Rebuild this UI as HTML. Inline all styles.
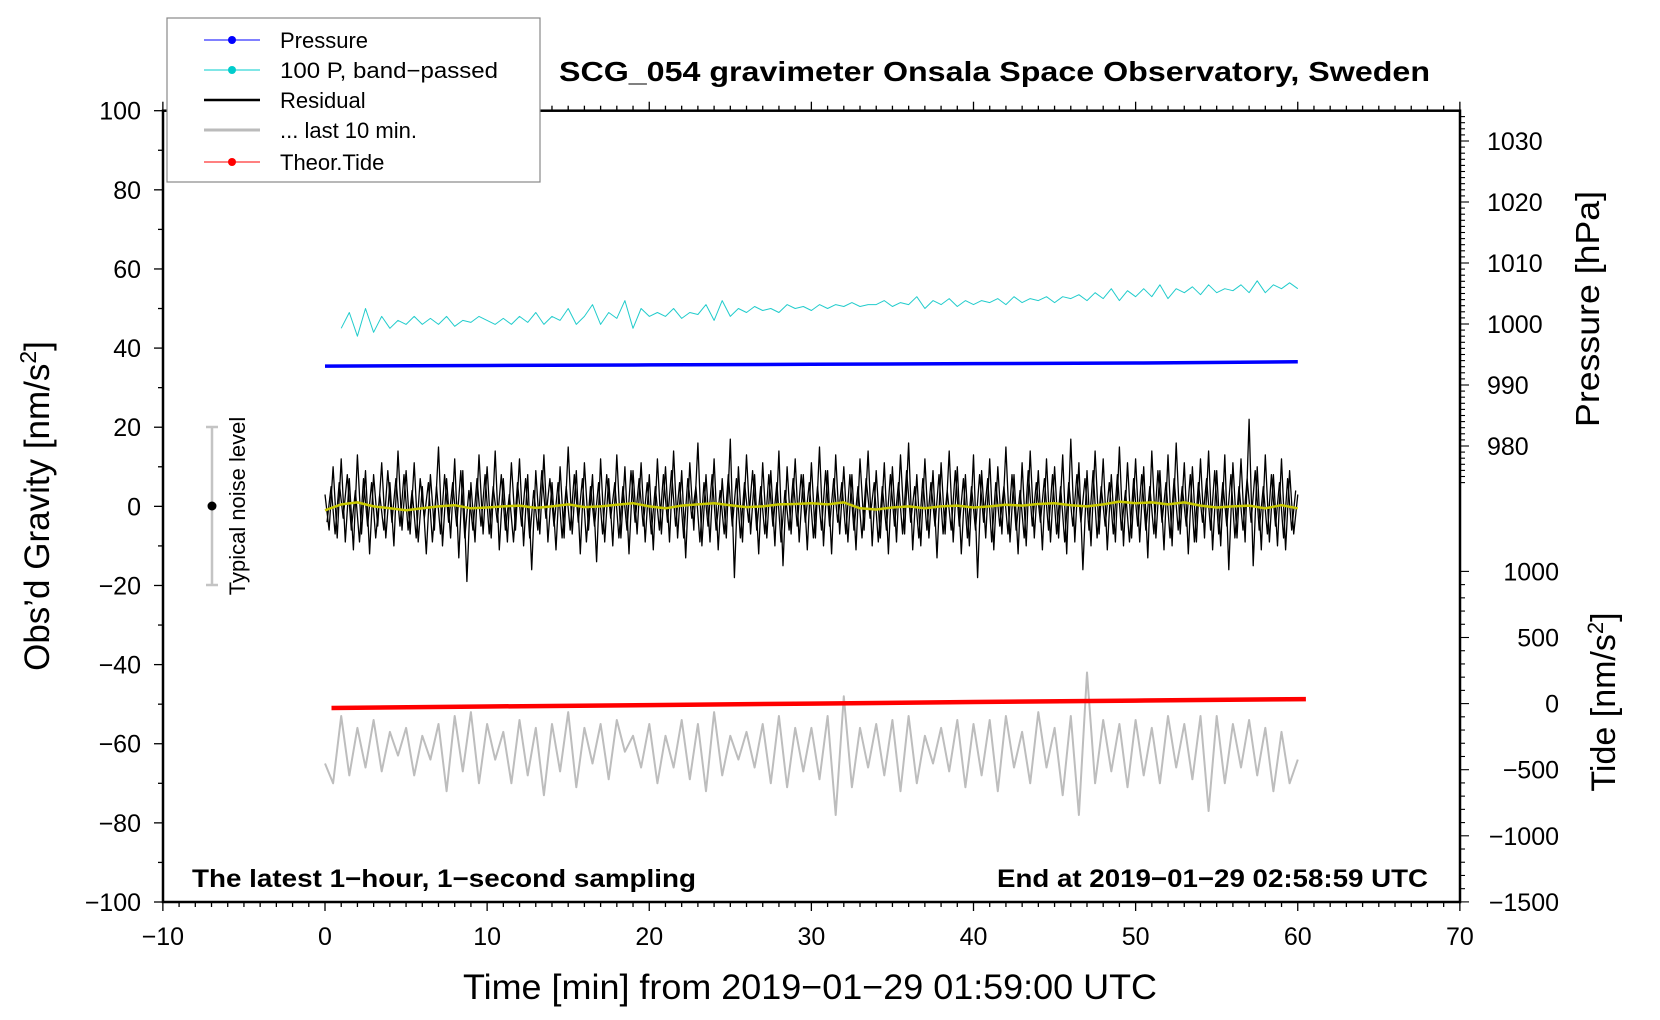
<!DOCTYPE html>
<html><head><meta charset="utf-8"><style>
html,body{margin:0;padding:0;background:#fff;width:1660px;height:1020px;overflow:hidden}
svg{display:block;font-family:"Liberation Sans",sans-serif}
</style></head><body>
<svg id="chart" width="1660" height="1020" viewBox="0 0 1660 1020" xmlns="http://www.w3.org/2000/svg">
<rect x="0" y="0" width="1660" height="1020" fill="#fff"/>
<g id="ticks"></g>
<g id="series"></g>
<rect x="163" y="110.7" width="1297" height="791.3" fill="none" stroke="#000" stroke-width="2.5"/>
<g>
<line x1="212" y1="427" x2="212" y2="585" stroke="#c4c4c4" stroke-width="2.5"/>
<line x1="206" y1="427" x2="218" y2="427" stroke="#c4c4c4" stroke-width="2.5"/>
<line x1="206" y1="585" x2="218" y2="585" stroke="#c4c4c4" stroke-width="2.5"/>
<circle cx="212" cy="506" r="4.5" fill="#000"/>
<text transform="translate(245,506) rotate(-90)" text-anchor="middle" font-size="22">Typical noise level</text>
</g>
<g>
<rect x="167" y="18" width="373" height="164" fill="#fff" stroke="#888" stroke-width="1.2"/>
<g><line x1="204" y1="40" x2="260" y2="40" stroke="#00f" stroke-width="1"/><circle cx="232" cy="40" r="4" fill="#00f"/><text x="280" y="48" font-size="22">Pressure</text></g>
<g><line x1="204" y1="70" x2="260" y2="70" stroke="#00cccc" stroke-width="1"/><circle cx="232" cy="70" r="4" fill="#00cccc"/><text x="280" y="78" font-size="22" textLength="218" lengthAdjust="spacingAndGlyphs">100 P, band−passed</text></g>
<g><line x1="204" y1="100" x2="260" y2="100" stroke="#000" stroke-width="2.5"/><text x="280" y="108" font-size="22">Residual</text></g>
<g><line x1="204" y1="130" x2="260" y2="130" stroke="#bbb" stroke-width="3"/><text x="280" y="138" font-size="22">... last 10 min.</text></g>
<g><line x1="204" y1="162" x2="260" y2="162" stroke="#f00" stroke-width="1"/><circle cx="232" cy="162" r="4" fill="#f00"/><text x="280" y="170" font-size="22">Theor.Tide</text></g>
</g>
<text x="559" y="81" font-size="28" font-weight="bold" textLength="871" lengthAdjust="spacingAndGlyphs">SCG_054 gravimeter Onsala Space Observatory, Sweden</text>
<text x="192" y="887" font-size="25" font-weight="bold" textLength="504" lengthAdjust="spacingAndGlyphs">The latest 1−hour, 1−second sampling</text>
<text x="997" y="887" font-size="25" font-weight="bold" textLength="431" lengthAdjust="spacingAndGlyphs">End at 2019−01−29 02:58:59 UTC</text>
<text x="463" y="999" font-size="35" textLength="694" lengthAdjust="spacingAndGlyphs">Time [min] from 2019−01−29 01:59:00 UTC</text>
<text transform="translate(49,506) rotate(-90)" text-anchor="middle" font-size="35">Obs’d Gravity [nm/s<tspan baseline-shift="super" font-size="23">2</tspan>]</text>
<text transform="translate(1599,309) rotate(-90)" text-anchor="middle" font-size="33" textLength="236" lengthAdjust="spacingAndGlyphs">Pressure [hPa]</text>
<text transform="translate(1615,702) rotate(-90)" text-anchor="middle" font-size="34">Tide [nm/s<tspan baseline-shift="super" font-size="22">2</tspan>]</text>
</svg>
<script>
const xTicks=[-10,0,10,20,30,40,50,60,70];
const yTicks=[100,80,60,40,20,0,-20,-40,-60,-80,-100];
const pTicks=[1030,1020,1010,1000,990,980];
const tTicks=[1000,500,0,-500,-1000,-1500];
const residual=[3,-6,10,-8,12,-9,7,-11,13,-7,9,-12,8,-5,11,-8,6,-10,14,-6,
9,-7,11,-9,5,-12,8,-6,15,-10,7,-8,12,-13,9,-19,6,-9,13,-7,
10,-8,14,-11,7,-9,11,-6,12,-10,8,-16,9,-7,13,-9,6,-11,10,-8,
15,-7,9,-12,11,-6,8,-14,12,-9,7,-10,13,-8,10,-12,9,-7,11,-9,
8,-11,12,-7,10,-9,14,-8,9,-13,11,-6,16,-10,8,-9,12,-11,7,-8,
17,-18,10,-9,13,-7,8,-12,11,-8,9,-10,14,-15,10,-7,12,-9,8,-11,
11,-8,15,-10,9,-12,13,-7,10,-9,8,-11,12,-6,14,-10,9,-8,11,-12,
10,-9,13,-7,16,-11,8,-10,12,-8,9,-13,11,-7,14,-9,10,-12,8,-10,
13,-18,9,-8,12,-11,10,-7,15,-9,8,-12,11,-10,14,-8,9,-11,12,-9,
10,-8,13,-12,17,-9,11,-16,9,-10,14,-7,12,-11,8,-9,15,-10,11,-8,
12,-9,10,-13,14,-8,9,-11,13,-10,16,-7,11,-12,10,-9,12,-8,14,-11,
9,-10,13,-16,11,-8,12,-9,22,-15,10,-11,13,-9,8,-10,12,-11,9,-7,3];
const residualFine=[-4,5,-7,6,-3,8,-6,4,-9,7,-5,6,-8,3,-6,9,-4,7,-5,8,
-6,4,-8,7,-3,6,-9,5,-7,8,-4,6,-5,9,-8,4,-6,7,-5,8,
-7,5,-4,8,-6,3,-9,6,-5,7,-8,4,-6,9,-3,7,-5,6,-8,5,
-6,8,-4,7,-9,5,-5,6,-7,8,-3,6,-8,5,-6,9,-4,7,-5,6,
-7,5,-6,8,-4,9,-5,6,-8,7,-3,5,-9,6,-5,8,-6,4,-7,8,
-5,7,-8,6,-4,9,-6,5,-7,8,-5,6,-9,4,-6,7,-5,8,-4,6,
-8,5,-6,9,-5,7,-4,6,-7,8,-6,5,-8,7,-3,6,-9,5,-6,8,
-5,6,-7,9,-4,5,-8,7,-6,6,-5,8,-7,4,-6,9,-5,7,-8,5,
-6,8,-4,7,-9,6,-5,5,-7,8,-6,4,-8,9,-5,6,-4,7,-6,8,
-7,5,-9,6,-5,8,-4,7,-6,9,-8,5,-5,6,-7,8,-6,4,-9,7,
-5,8,-6,5,-7,9,-4,6,-8,7,-6,5,-5,8,-9,6,-4,7,-6,9,
-7,6,-5,8,-8,5,-6,7,-4,9,-6,5,-7,8,-5,6,-8,7,-6,4];
const smoothed=[-1,0.5,1,0,-0.5,-1,-0.5,0,0.3,-0.5,-0.3,0,0.2,-0.4,0,0.5,-0.2,0,0.4,0.8,0,-0.5,0.2,0.5,0.8,0.3,-0.2,0,0.5,0.6,0.8,0.5,1,-0.5,-0.8,-0.3,0,-0.5,0,0.2,-0.3,0,0.4,0.2,0.6,0.8,0.3,0,0.5,1.2,0.8,1,0.5,1,0.2,-0.3,0,0.2,-0.5,0.3,-0.5];
const bandPassed=[45,49,43,50,44,48,45,47,46,48,
46,47.5,46,48,45.5,47,46.5,48,47,46,
47.5,46,48,46.5,49,46,48,47,50,46,
48,51,46,49,47.5,52,45,50,48,49,
48,50,47.5,49,48.5,51,47,52,48,50,
49,50.5,49.5,50,49,51,50,50.5,49.5,51,
50,51,50.5,51.5,50.5,51,51,52,50.5,51.5,
51,53,50,52,51,52.5,50.5,52,51,52,
51.5,52.5,51,53,51.5,52.5,52,53,51.5,53,
52.5,53.5,52,54,52.5,55,52,54.5,53,55,
53,56,52.5,55,54,55.5,53.5,56,54,55,
54.5,56,54,57,54,56,55,56.5,55];
const last10=[-65,-70,-53,-68,-56,-66,-54,-67,-57,-63,
-56,-68,-58,-64,-55,-72,-53,-67,-52,-70,
-55,-64,-57,-70,-54,-68,-56,-73,-55,-67,
-52,-71,-56,-65,-55,-69,-54,-62,-58,-66,
-55,-70,-58,-66,-54,-69,-55,-72,-52,-68,
-58,-64,-57,-66,-55,-70,-53,-71,-56,-67,
-56,-69,-53,-78,-48,-71,-56,-66,-55,-68,
-54,-72,-53,-70,-58,-65,-56,-67,-54,-71,
-55,-68,-54,-72,-53,-66,-57,-70,-52,-66,
-56,-73,-53,-78,-42,-70,-54,-67,-55,-71,
-54,-68,-56,-70,-53,-66,-55,-69,-53,-77,
-53,-70,-55,-66,-54,-68,-56,-72,-57,-70,-64];
const pressTimes=[0,10,20,30,40,50,60];
const pressure=[993.1,993.2,993.3,993.4,993.5,993.6,993.8];
const tideTimes=[0.4,10,20,30,40,50,60.5];
const tide=[-33,-22,-11,0,12,23,34];

const NS='http://www.w3.org/2000/svg';
const X=t=>325+(t)*16.2125;
const Y=g=>506.35-g*3.9565;
const P=p=>141-(p-1030)*6.1;
const T=v=>703.6-v*0.1322;
const tk=document.getElementById('ticks');
const sr=document.getElementById('series');
function mk(tag,attrs,parent){const e=document.createElementNS(NS,tag);for(const k in attrs)e.setAttribute(k,attrs[k]);parent.appendChild(e);return e;}
function line(x1,y1,x2,y2,w){return mk('line',{x1,y1,x2,y2,stroke:'#000','stroke-width':w},tk);}
for(let m=-10;m<=70;m++){const maj=m%10===0;const x=X(m);
line(x,902,x,902+(maj?9:5),1.3);line(x,110.7,x,110.7-(maj?9:5),1.3);}
xTicks.forEach(v=>{const t=mk('text',{x:X(v),y:945,'text-anchor':'middle','font-size':25},tk);t.textContent=String(v).replace('-','−');

});
for(let g=-100;g<=100;g+=10){const maj=g%20===0;line(163,Y(g),163-(maj?9:5),Y(g),1.3);}
yTicks.forEach(v=>{const t=mk('text',{x:141,y:Y(v)+9,'text-anchor':'end','font-size':25},tk);t.textContent=String(v).replace('-','−');

});
for(let p=1034;p>=974;p--){const y=P(p);if(y<110.7)continue;line(1460,y,1460+(p%10===0?9:5),y,1.1);}
pTicks.forEach(v=>{const t=mk('text',{x:1487,y:P(v)+9,'font-size':25},tk);t.textContent=String(v);

});
for(let v=-1500;v<=1000;v+=100){const y=T(v);line(1460,y,1460+(v%500===0?9:5),y,1.1);}
tTicks.forEach(v=>{const t=mk('text',{x:1559,y:T(v)+9,'text-anchor':'end','font-size':25},tk);t.textContent=String(v).replace('-','−');

});
function poly(xs,ys,color,w,name){const pts=xs.map((x,i)=>x.toFixed(1)+','+ys[i].toFixed(1)).join(' ');
const p=mk('polyline',{points:pts,fill:'none',stroke:color,'stroke-width':w,'stroke-linejoin':'round'},sr);

}
poly(residual.map((v,i)=>X(i*0.25)),residual.map(Y),'#000',1.3,'residual-line');
poly(residualFine.map((v,i)=>X(0.125+i*0.25)),residualFine.map(Y),'#000',1.3,'residual-fine-line');
poly(smoothed.map((v,i)=>X(i)),smoothed.map(Y),'#c8c800',2.5,'residual-smoothed-line');
poly(bandPassed.map((v,i)=>X(1+i*0.5)),bandPassed.map(Y),'#22cccc',1,'band-passed-pressure-line');
poly(pressure.map((v,i)=>X(pressTimes[i])),pressure.map(P),'#0000ff',3.5,'pressure-line');
poly(last10.map((v,i)=>X(i*0.5)),last10.map(Y),'#bdbdbd',2,'last-10-min-line');
poly(tide.map((v,i)=>X(tideTimes[i])),tide.map(T),'#ff0000',4.5,'tide-line');
</script>
</body></html>
